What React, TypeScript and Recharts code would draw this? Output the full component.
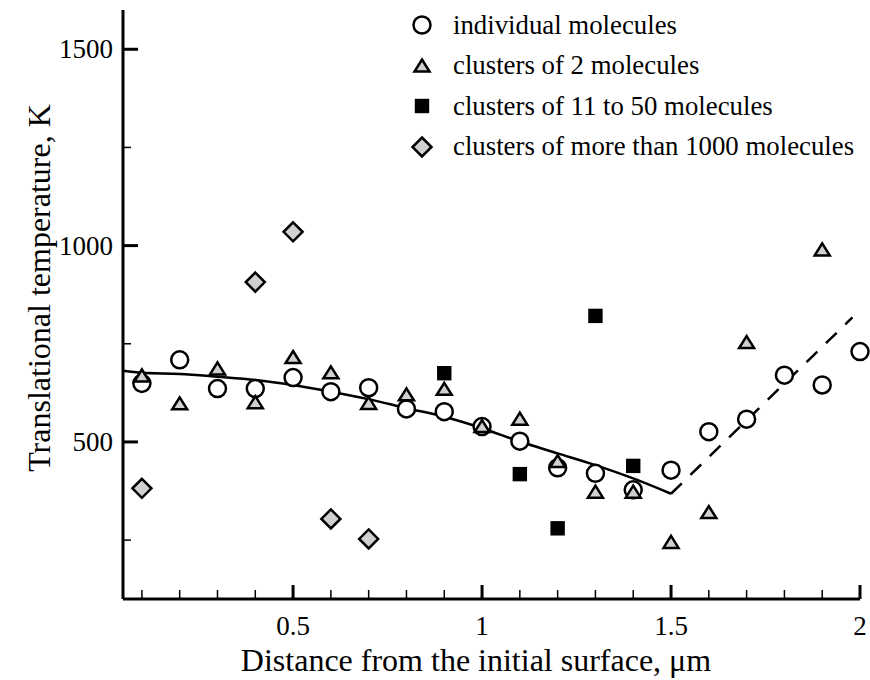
import { ComposedChart, Scatter, Line, XAxis, YAxis, Legend, Label } from 'recharts';

// Distance from the initial surface, um
const xTicks = [0.1, 0.2, 0.3, 0.4, 0.5, 0.6, 0.7, 0.8, 0.9, 1, 1.1, 1.2, 1.3, 1.4, 1.5, 1.6, 1.7, 1.8, 1.9, 2];
const xMajor = [0.5, 1, 1.5, 2];
const yTicks = [250, 500, 750, 1000, 1250, 1500];
const yMajor = [500, 1000, 1500];

// individual molecules
const molX = [0.1, 0.2, 0.3, 0.4, 0.5, 0.6, 0.7, 0.8, 0.9, 1.0, 1.1, 1.2, 1.3, 1.4, 1.5, 1.6, 1.7, 1.8, 1.9, 2.0];
const molY = [649, 709, 636, 636, 664, 628, 638, 584, 577, 539, 502, 434, 420, 378, 428, 526, 558, 670, 645, 730];

// clusters of 2 molecules
const c2X = [0.1, 0.2, 0.3, 0.4, 0.5, 0.6, 0.7, 0.8, 0.9, 1.0, 1.1, 1.2, 1.3, 1.4, 1.5, 1.6, 1.7, 1.9];
const c2Y = [668, 597, 686, 600, 715, 676, 598, 620, 634, 539, 558, 450, 372, 372, 244, 320, 753, 989];

// clusters of 11 to 50 molecules
const c11X = [0.9, 1.1, 1.2, 1.3, 1.4];
const c11Y = [675, 418, 280, 821, 439];

// clusters of more than 1000 molecules
const c1000X = [0.1, 0.4, 0.5, 0.6, 0.7];
const c1000Y = [382, 907, 1035, 304, 253];

// fitted curves
const fitX = [0.05, 0.1, 0.2, 0.3, 0.4, 0.5, 0.6, 0.7, 0.8, 0.9, 1.0, 1.1, 1.2, 1.3, 1.4, 1.5];
const fitY = [681, 676, 673, 666, 658, 645, 628, 609, 586, 564, 535, 501, 471, 441, 407, 368];
const dashX = [1.5, 1.98];
const dashY = [368, 817];

const zip = (xs: number[], ys: number[]) => xs.map((x, i) => ({ x, y: ys[i] }));

const FONT = '"Liberation Serif", Tinos, "Times New Roman", "Nimbus Roman", "DejaVu Serif", serif';
const GRAY = '#d0d0d0';

const CircleMark = ({ cx, cy }: any) => (
  <circle cx={cx} cy={cy} r={8.5} fill="#fff" stroke="#000" strokeWidth={2.5} />
);
const TriangleMark = ({ cx, cy }: any) => (
  <path d={`M${cx},${cy - 6.5} L${cx + 7.5},${cy + 5.5} L${cx - 7.5},${cy + 5.5} Z`} fill={GRAY} stroke="#000" strokeWidth={2.5} strokeLinejoin="miter" />
);
const SquareMark = ({ cx, cy }: any) => (
  <rect x={cx - 7.2} y={cy - 7.2} width={14.4} height={14.4} fill="#000" />
);
const DiamondMark = ({ cx, cy }: any) => (
  <path d={`M${cx},${cy - 9.5} L${cx + 9.5},${cy} L${cx},${cy + 9.5} L${cx - 9.5},${cy} Z`} fill={GRAY} stroke="#000" strokeWidth={2.5} />
);

const legendItems = [
  { name: 'individual molecules', Mark: CircleMark },
  { name: 'clusters of 2 molecules', Mark: TriangleMark },
  { name: 'clusters of 11 to 50 molecules', Mark: SquareMark },
  { name: 'clusters of more than 1000 molecules', Mark: DiamondMark },
];

const XTick = (props: any) => {
  const { x, y, payload } = props;
  const major = xMajor.includes(payload.value);
  return (
    <g>
      <line x1={x} y1={y} x2={x} y2={y - (major ? 14 : 9)} stroke="#000" strokeWidth={major ? 3 : 1.5} />
      {major && (
        <text x={x} y={y + 36} textAnchor="middle" fontFamily={FONT} fontSize={27} fill="#000">
          {payload.value}
        </text>
      )}
    </g>
  );
};

const YTick = (props: any) => {
  const { x, y, payload } = props;
  const major = yMajor.includes(payload.value);
  return (
    <g>
      <line x1={x} y1={y} x2={x + (major ? 15 : 8)} y2={y} stroke="#000" strokeWidth={major ? 3 : 1.5} />
      {major && (
        <text x={x - 10} y={y + 9} textAnchor="end" fontFamily={FONT} fontSize={27} fill="#000">
          {payload.value}
        </text>
      )}
    </g>
  );
};

const LegendBox = () => (
  <div style={{ fontFamily: FONT, fontSize: 26.8, color: '#000' }}>
    {legendItems.map(({ name, Mark }) => (
      <div key={name} style={{ display: 'flex', alignItems: 'center', height: 40.5 }}>
        <svg width={30} height={30} style={{ marginRight: 16 }}>
          <Mark cx={15} cy={15} />
        </svg>
        <span style={{ whiteSpace: 'nowrap' }}>{name}</span>
      </div>
    ))}
  </div>
);

export default function App() {
  return (
    <div style={{ position: 'absolute', left: 0, top: 0 }}>
      <ComposedChart width={870} height={680} margin={{ top: 10, right: 10, bottom: 0, left: 0 }}>
        <XAxis
          type="number"
          dataKey="x"
          domain={[0.05, 2]}
          ticks={xTicks}
          interval={0}
          height={81}
          tickSize={0}
          tickMargin={0}
          tickLine={false}
          axisLine={{ stroke: '#000', strokeWidth: 3 }}
          tick={<XTick />}
        >
          <Label
            content={() => (
              <text x={476} y={671} textAnchor="middle" fontFamily={FONT} fontSize={32} fill="#000">
                Distance from the initial surface, μm
              </text>
            )}
          />
        </XAxis>
        <YAxis
          type="number"
          dataKey="y"
          domain={[100, 1600]}
          ticks={yTicks}
          interval={0}
          width={123}
          tickSize={0}
          tickMargin={0}
          tickLine={false}
          axisLine={{ stroke: '#000', strokeWidth: 3 }}
          tick={<YTick />}
        >
          <Label
            content={() => (
              <text
                x={50}
                y={288}
                transform="rotate(-90 50 288)"
                textAnchor="middle"
                fontFamily={FONT}
                fontSize={32}
                fill="#000"
              >
                Translational temperature, K
              </text>
            )}
          />
        </YAxis>
        <Legend
          layout="vertical"
          align="center"
          verticalAlign="middle"
          content={<LegendBox />}
          wrapperStyle={{ left: 407, top: 5, width: 462 }}
        />
        <Scatter name="individual molecules" data={zip(molX, molY)} shape={<CircleMark />} isAnimationActive={false} />
        <Scatter name="clusters of 2 molecules" data={zip(c2X, c2Y)} shape={<TriangleMark />} isAnimationActive={false} />
        <Scatter name="clusters of 11 to 50 molecules" data={zip(c11X, c11Y)} shape={<SquareMark />} isAnimationActive={false} />
        <Scatter name="clusters of more than 1000 molecules" data={zip(c1000X, c1000Y)} shape={<DiamondMark />} isAnimationActive={false} />
        <Line
          data={zip(fitX, fitY)}
          dataKey="y"
          type="monotone"
          stroke="#000"
          strokeWidth={2.5}
          dot={false}
          activeDot={false}
          legendType="none"
          isAnimationActive={false}
        />
        <Line
          data={zip(dashX, dashY)}
          dataKey="y"
          type="linear"
          stroke="#000"
          strokeWidth={2.5}
          strokeDasharray="15 12"
          dot={false}
          activeDot={false}
          legendType="none"
          isAnimationActive={false}
        />
      </ComposedChart>
    </div>
  );
}
